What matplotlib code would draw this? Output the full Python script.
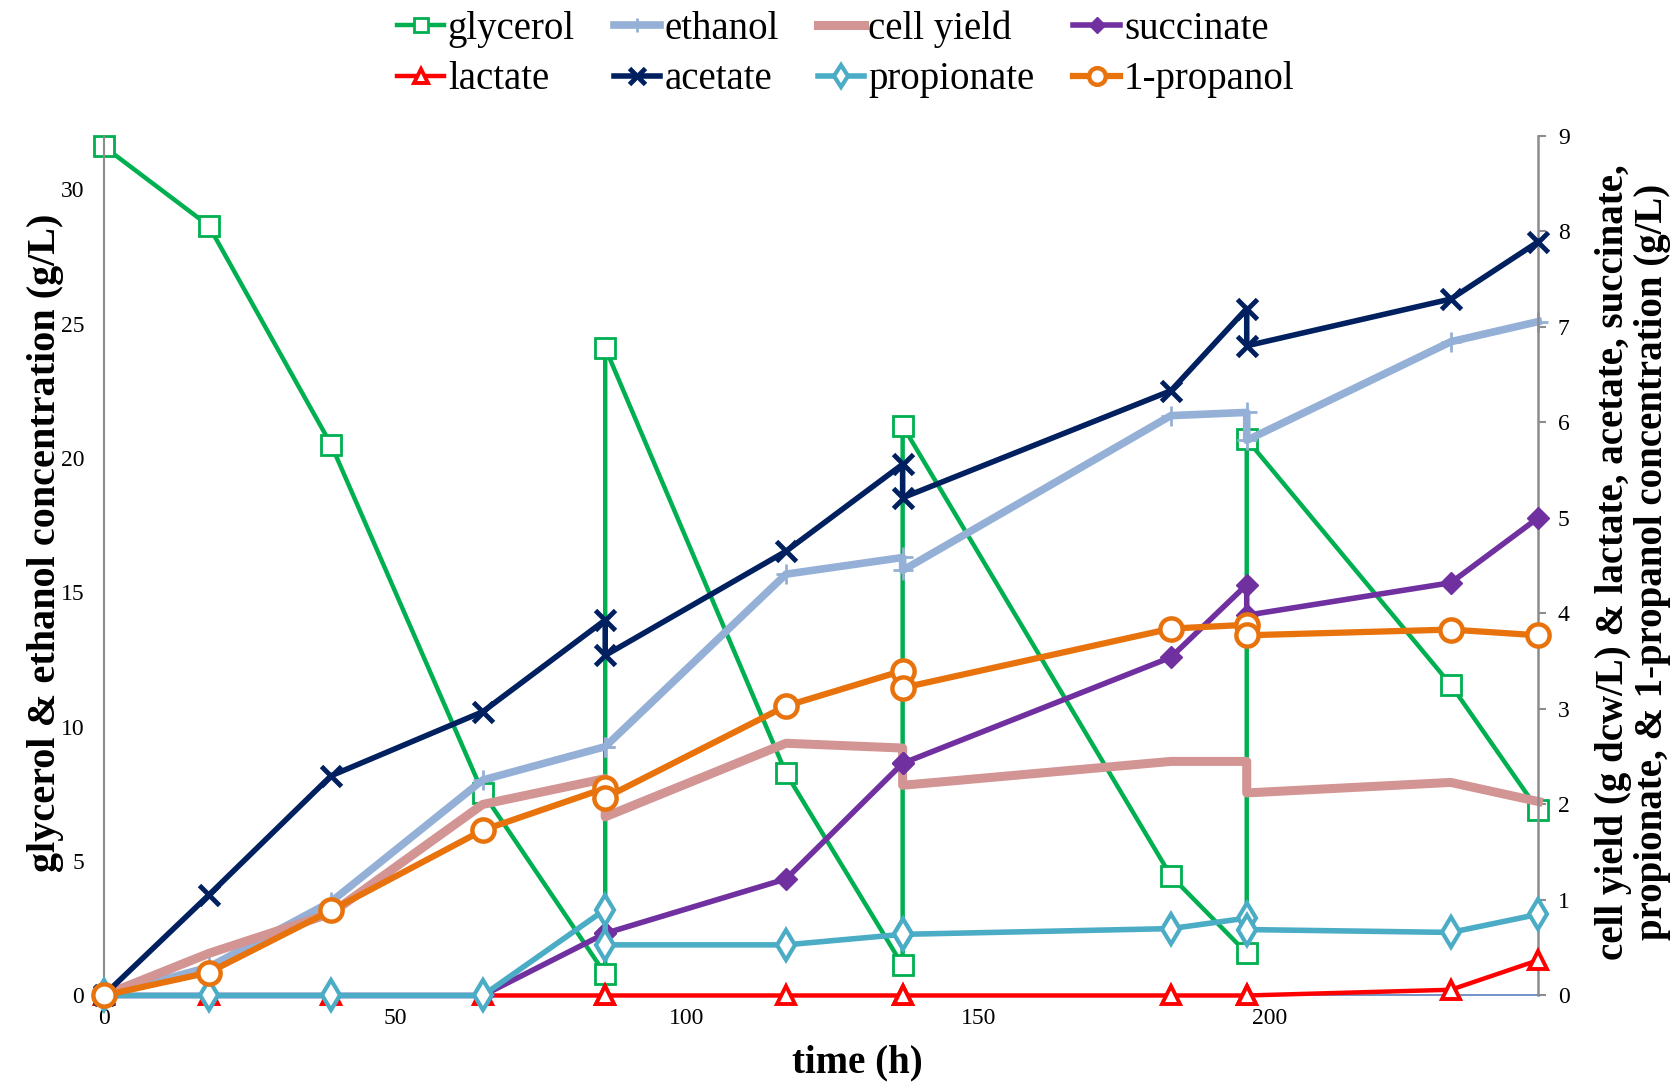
import matplotlib
matplotlib.use("Agg")
import matplotlib.pyplot as plt
import numpy as np

plt.rcParams['font.family'] = ['Liberation Serif', 'DejaVu Serif']

# ---- data ----
time = [0, 18, 39, 65, 86, 86, 117, 137, 137, 183, 196, 196, 231, 246]
glycerol = [31.6, 28.65, 20.5, 7.55, 0.8, 24.1, 8.27, 1.12, 21.2, 4.45, 1.58, 20.7, 11.56, 6.89]
ethanol = [0, 1.05, 3.49, 8.02, 9.26, 9.26, 15.68, 16.30, 15.82, 21.58, 21.7, 20.66, 24.33, 25.08]
cell_yield = [0, 0.44, 0.86, 2.0, 2.27, 1.87, 2.64, 2.59, 2.20, 2.45, 2.45, 2.12, 2.23, 2.03]
lactate = [0, 0, 0, 0, 0, 0, 0, 0, 0, 0, 0, 0, 0.06, 0.37]
acetate = [0, 1.05, 2.30, 2.97, 3.93, 3.56, 4.65, 5.56, 5.21, 6.33, 7.19, 6.80, 7.29, 7.89]
succinate = [0, 0, 0, 0, 0.65, 0.65, 1.22, 2.43, 2.43, 3.54, 4.30, 3.98, 4.32, 5.0]
propionate = [0, 0, 0, 0, 0.90, 0.53, 0.53, 0.64, 0.64, 0.70, 0.81, 0.69, 0.66, 0.85]
propanol = [0, 0.24, 0.89, 1.73, 2.17, 2.07, 3.03, 3.40, 3.22, 3.84, 3.88, 3.77, 3.83, 3.77]

xticks = [0, 50, 100, 150, 200]
left_ticks = [0, 5, 10, 15, 20, 25, 30]
right_ticks = list(range(10))

fig = plt.figure(figsize=(16.75, 10.85), dpi=100)
ax = fig.add_axes([0.0619, 0.0825, 0.8565, 0.7925])
ax2 = ax.twinx()

gl, = ax.plot(time, glycerol, color='#00B050', lw=3.2, marker='s', ms=14,
              mfc='white', mec='#00B050', mew=2, label='glycerol', zorder=2, clip_on=False)
et, = ax.plot(time, ethanol, color='#95B0D6', lw=5.5, marker='+', ms=14,
              mew=2, mec='#95B0D6', label='ethanol', zorder=3, clip_on=False)

cy, = ax2.plot(time, cell_yield, color='#D39494', lw=6.5, label='cell yield',
               solid_capstyle='projecting', zorder=2, clip_on=False)
la, = ax2.plot(time, lactate, color='#FF0000', lw=3.2, marker='^', ms=13,
               mfc='white', mec='#FF0000', mew=2.8, label='lactate', zorder=3, clip_on=False)
ac, = ax2.plot(time, acetate, color='#002060', lw=4, marker='x', ms=15,
               mew=3.5, label='acetate', zorder=4, clip_on=False)
su, = ax2.plot(time, succinate, color='#7030A0', lw=4, marker='D', ms=11,
               mfc='#7030A0', mec='#7030A0', label='succinate', zorder=5, clip_on=False)
pr, = ax2.plot(time, propionate, color='#4BACC6', lw=4, marker='d', ms=15,
               mfc='white', mec='#4BACC6', mew=3, label='propionate', zorder=6, clip_on=False)
po, = ax2.plot(time, propanol, color='#E8720C', lw=4.5, marker='o', ms=16,
               mfc='white', mec='#E8720C', mew=3.2, label='1-propanol', zorder=7, clip_on=False)

ax.set_xlim(0, 246)
ax.set_ylim(0, 32)
ax2.set_ylim(0, 9)
ax.set_xticks(xticks)
ax.set_yticks(left_ticks)
ax2.set_yticks(right_ticks)

for a in (ax, ax2):
    a.spines['top'].set_visible(False)
ax.spines['left'].set_color('#8C8C8C')
ax.spines['left'].set_linewidth(1.5)
ax.spines['right'].set_visible(False)
ax.spines['bottom'].set_color('#5B7FC0')
ax.spines['bottom'].set_linewidth(1.2)
ax2.spines['left'].set_visible(False)
ax2.spines['bottom'].set_visible(False)
ax2.spines['right'].set_color('#8C8C8C')
ax2.spines['right'].set_linewidth(1.8)

ax.tick_params(axis='x', length=0, pad=9, labelsize=17)
ax.tick_params(axis='y', length=0, pad=14, labelsize=17)
ax2.tick_params(axis='y', length=6, width=1.5, color='#8C8C8C', pad=8, labelsize=17)

fig.text(0.027, 0.5, 'glycerol & ethanol concentration (g/L)', rotation=90,
         ha='center', va='center', fontsize=29, fontweight='bold')
fig.text(0.975, 0.482, 'cell yield (g dcw/L) & lactate, acetate, succinate,\n'
         'propionate, & 1-propanol concentration (g/L)', rotation=90,
         ha='center', va='center', fontsize=28, fontweight='bold',
         multialignment='center', linespacing=1.05)
fig.text(0.512, 0.02, 'time (h)', ha='center', va='center', fontsize=28,
         fontweight='bold')

handles = [gl, la, et, ac, cy, pr, su, po]
leg = fig.legend(handles=handles, labels=[h.get_label() for h in handles],
                 loc='center', bbox_to_anchor=(0.505, 0.95), ncol=4,
                 frameon=False, fontsize=28, handlelength=1.2,
                 handletextpad=0.1, columnspacing=1.0, labelspacing=0.35,
                 markerscale=0.75)

fig.savefig('out.png', dpi=100)
